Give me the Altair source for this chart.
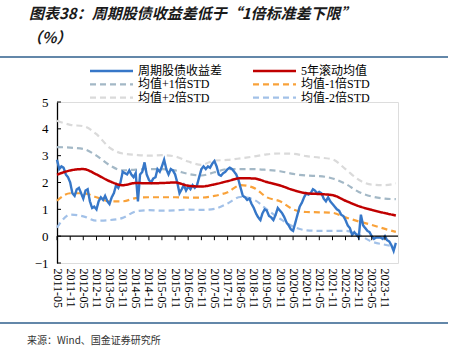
import altair as alt
import pandas as pd

TITLE_LINE1 = "图表38：周期股债收益差低于“1倍标准差下限”"
TITLE_LINE2 = "（%）"
SOURCE = "来源：Wind、国金证券研究所"

SERIES = ["周期股债收益差", "5年滚动均值", "均值+1倍STD", "均值-1倍STD", "均值+2倍STD", "均值-2倍STD"]
COLORS = ["#3677c8", "#c00000", "#a3b8c6", "#f9a23a", "#dadada", "#a2c1e8"]
DASHES = [[1, 0], [1, 0], [6, 4], [6, 4], [6, 4], [6, 4]]

TICK_LABELS = ["2011-05", "2011-11", "2012-05", "2012-11", "2013-05", "2013-11",
               "2014-05", "2014-11", "2015-05", "2015-11", "2016-05", "2016-11",
               "2017-05", "2017-11", "2018-05", "2018-11", "2019-05", "2019-11",
               "2020-05", "2020-11", "2021-05", "2021-11", "2022-05", "2022-11",
               "2023-05", "2023-11"]
Y_TICKS = [-1, 0, 1, 2, 3, 4, 5]

# monthly spread, starting 2011-05
SPREAD_START = "2011-05"
spread = [
    2.85, 2.5, 2.6, 2.55, 2.3, 2.2, 2.0, 1.6, 1.5, 1.75,
    1.8, 1.6, 1.4, 1.7, 1.75, 1.3, 1.05, 1.1, 1.0, 1.3,
    1.45, 1.35, 1.5, 1.3, 1.2, 1.45, 1.6, 1.9, 1.8, 2.0,
    2.4, 2.35, 2.3, 2.45, 2.3, 2.2, 2.35, 1.3, 2.3, 2.4,
    2.75, 2.3, 2.1, 2.0, 2.15, 2.2, 2.5, 2.4, 2.6, 2.85,
    2.5, 2.3, 2.5, 2.45, 2.3, 2.0, 1.6, 1.75, 1.9, 1.7,
    1.85, 1.75, 1.9, 1.8, 1.9, 2.2, 2.5, 2.6, 2.5, 2.6,
    2.55, 2.7, 2.8, 2.6, 2.3, 2.25, 2.35, 2.4, 2.5, 2.55,
    2.5, 2.4, 2.3, 2.1, 1.8, 1.5, 1.45, 1.35, 1.4, 1.2,
    1.05, 0.85, 0.7, 0.6, 0.85, 1.0, 0.95, 0.75, 0.7, 0.6,
    0.8, 1.05, 0.95, 0.85, 0.7, 0.5, 0.4, 0.25, 0.2, 0.5,
    0.8, 1.1, 1.25, 1.45, 1.6, 1.55, 1.6, 1.75, 1.7, 1.6,
    1.65, 1.6, 1.4, 1.3, 1.45, 1.3, 1.2, 1.1, 1.0, 0.95,
    0.8, 0.75, 0.6, 0.4, 0.3, 0.05, 0.15, 0.05, -0.05, 0.8,
    0.4, 0.3, 0.2, 0.15, 0.0, -0.1, -0.05, -0.05, -0.05, -0.1,
    0.0, -0.15, -0.2, -0.35, -0.55, -0.25,
]

# band values at each tick month plus the last month
BAND_DATES = TICK_LABELS + ["2024-04"]
mean_5y = [2.29, 2.45, 2.5, 2.3, 2.05, 1.9, 1.98, 1.97, 1.98, 2.0, 1.88, 1.85, 1.93,
           2.05, 2.16, 2.15, 2.02, 1.89, 1.72, 1.6, 1.57, 1.53, 1.32, 1.12, 0.98, 0.86, 0.77]
plus_1 = [3.32, 3.3, 3.25, 3.0, 2.65, 2.45, 2.48, 2.5, 2.5, 2.45, 2.32, 2.26, 2.38,
          2.5, 2.5, 2.5, 2.47, 2.42, 2.32, 2.26, 2.24, 2.15, 1.95, 1.65, 1.48, 1.4, 1.38]
minus_1 = [1.32, 1.6, 1.6, 1.45, 1.3, 1.3, 1.42, 1.45, 1.45, 1.45, 1.44, 1.44, 1.5,
           1.64, 1.9, 1.8, 1.45, 1.3, 1.0, 0.9, 0.89, 0.87, 0.7, 0.55, 0.42, 0.27, 0.16]
plus_2 = [4.3, 4.15, 4.1, 3.8, 3.3, 3.08, 3.03, 3.0, 3.02, 2.97, 2.78, 2.66, 2.82,
          2.84, 2.9, 2.97, 3.05, 3.08, 3.07, 2.98, 2.93, 2.86, 2.5, 2.1, 1.92, 1.9, 1.97]
minus_2 = [0.32, 0.8, 0.74, 0.58, 0.6, 0.68, 0.92, 0.97, 0.95, 0.96, 0.99, 0.98, 1.02,
           1.22, 1.46, 1.36, 1.0, 0.65, 0.36, 0.22, 0.2, 0.2, 0.2, 0.05, -0.2, -0.32, -0.39]

FONT = "Liberation Serif, Noto Sans CJK SC, serif"
CJK = "Noto Sans CJK SC"

W, H = 341, 161
PAD_L, PAD_T = 57, 102


def dt(label):
    y, m = label.split("-")
    return alt.DateTime(year=int(y), month=int(m), date=1, utc=True)


spread_dates = pd.date_range(SPREAD_START + "-01", periods=len(spread), freq="MS").strftime("%Y-%m-%d")
spread_df = pd.DataFrame({"date": list(spread_dates), "value": spread, "series": SERIES[0]})

band_dates = [d + "-01" for d in BAND_DATES]
red_df = pd.DataFrame({"date": band_dates, "value": mean_5y, "series": SERIES[1]})
bands = []
for name, vals in zip(SERIES[2:], [plus_1, minus_1, plus_2, minus_2]):
    bands.append(pd.DataFrame({"date": band_dates, "value": vals, "series": name}))
band_df = pd.concat(bands, ignore_index=True)

x_scale = alt.Scale(type="utc", domain=[dt("2011-05"), dt("2024-05")])
y_scale = alt.Scale(domain=[-1, 5], nice=False, zero=False)

x_axis = alt.Axis(values=[dt(t) for t in TICK_LABELS], format="%Y-%m", labelAngle=90,
                  labelAlign="left", labelBaseline="middle", domain=False, ticks=False,
                  grid=False, title=None, labelFont=FONT, labelFontSize=12,
                  labelColor="black", labelPadding=5, labelOverlap=False, labelFlush=False,
                  labelBound=False)
y_axis = alt.Axis(values=Y_TICKS, domain=True, domainColor="black", domainWidth=1.3,
                  ticks=False, grid=False, title=None, labelFont=FONT, labelFontSize=13,
                  labelPadding=9, labelColor="black", labelOverlap=False, labelFlush=False,
                  labelBound=False)

x_enc = alt.X("date:T", scale=x_scale, axis=x_axis)
y_enc = alt.Y("value:Q", scale=y_scale, axis=y_axis)
color_enc = alt.Color("series:N", scale=alt.Scale(domain=SERIES, range=COLORS), legend=None)
dash_enc = alt.StrokeDash("series:N", scale=alt.Scale(domain=SERIES, range=DASHES), legend=None)

band_layer = alt.Chart(band_df).mark_line(interpolate="monotone", strokeWidth=2.2).encode(
    x=x_enc, y=y_enc, color=color_enc, strokeDash=dash_enc, detail="series:N")
blue_layer = alt.Chart(spread_df).mark_line(strokeWidth=2.4).encode(
    x=x_enc, y=y_enc, color=color_enc, strokeDash=dash_enc)
red_layer = alt.Chart(red_df).mark_line(interpolate="monotone", strokeWidth=2.5).encode(
    x=x_enc, y=y_enc, color=color_enc, strokeDash=dash_enc)

zero_layer = alt.Chart(pd.DataFrame({"value": [0]})).mark_rule(color="black", strokeWidth=1.3).encode(
    y=y_enc)
xtick_df = pd.DataFrame({"date": [t + "-01" for t in TICK_LABELS], "value": 0.0, "value2": -0.15})
xtick_layer = alt.Chart(xtick_df).mark_rule(color="black", strokeWidth=1).encode(
    x=x_enc, y=y_enc, y2="value2:Q")
ytick_layer = alt.Chart(pd.DataFrame({"value": Y_TICKS})).mark_rule(
    color="black", strokeWidth=1).encode(y=y_enc, x=alt.value(0), x2=alt.value(4))

one = pd.DataFrame({"k": [0]})
annot = []
annot.append(alt.Chart(pd.DataFrame({"t": [TITLE_LINE1]})).mark_text(
    align="left", baseline="middle", font=CJK, fontSize=15, fontWeight="bold",
    fontStyle="italic", color="#1a1a1a").encode(
    text="t:N", x=alt.value(-28), y=alt.value(-88)))
annot.append(alt.Chart(pd.DataFrame({"t": [TITLE_LINE2]})).mark_text(
    align="left", baseline="middle", font=CJK, fontSize=15, fontWeight="bold",
    fontStyle="italic", color="#1a1a1a").encode(
    text="t:N", x=alt.value(-30), y=alt.value(-64)))
annot.append(alt.Chart(one).mark_rule(color="#2f5f8c", strokeWidth=1.5).encode(
    x=alt.value(-57), x2=alt.value(391), y=alt.value(-45)))
annot.append(alt.Chart(one).mark_rule(color="#2f5f8c", strokeWidth=1.5).encode(
    x=alt.value(-57), x2=alt.value(391), y=alt.value(221)))
annot.append(alt.Chart(pd.DataFrame({"t": [SOURCE]})).mark_text(
    align="left", baseline="middle", font=CJK, fontSize=10, color="#333333").encode(
    text="t:N", x=alt.value(-30), y=alt.value(239)))

# manual legend: 2 columns x 3 rows
for i, name in enumerate(SERIES):
    col, row = i % 2, i // 2
    sx = 33 + 163 * col
    sy = -31 + 13.3 * row
    dash = DASHES[i]
    annot.append(alt.Chart(pd.DataFrame({"series": [name]})).mark_rule(
        color=COLORS[i], strokeWidth=2.5 if i < 2 else 2.2, strokeDash=dash).encode(
        x=alt.value(sx), x2=alt.value(sx + 43), y=alt.value(sy)))
    annot.append(alt.Chart(pd.DataFrame({"series": [name]})).mark_text(
        align="left", baseline="middle", font=FONT, fontSize=12, color="black").encode(
        text="series:N", x=alt.value(sx + 48), y=alt.value(sy)))

chart = alt.layer(
    band_layer, blue_layer, red_layer, zero_layer, xtick_layer, ytick_layer, *annot
).properties(
    width=W, height=H,
    autosize="none",
    padding={"left": PAD_L, "top": PAD_T, "right": 452 - PAD_L - W, "bottom": 351 - PAD_T - H},
).configure_view(stroke=None).configure_axis(labelOverlap=False).configure(background="white")

chart.save("out.html", embed_options={"renderer": "svg", "actions": False})
